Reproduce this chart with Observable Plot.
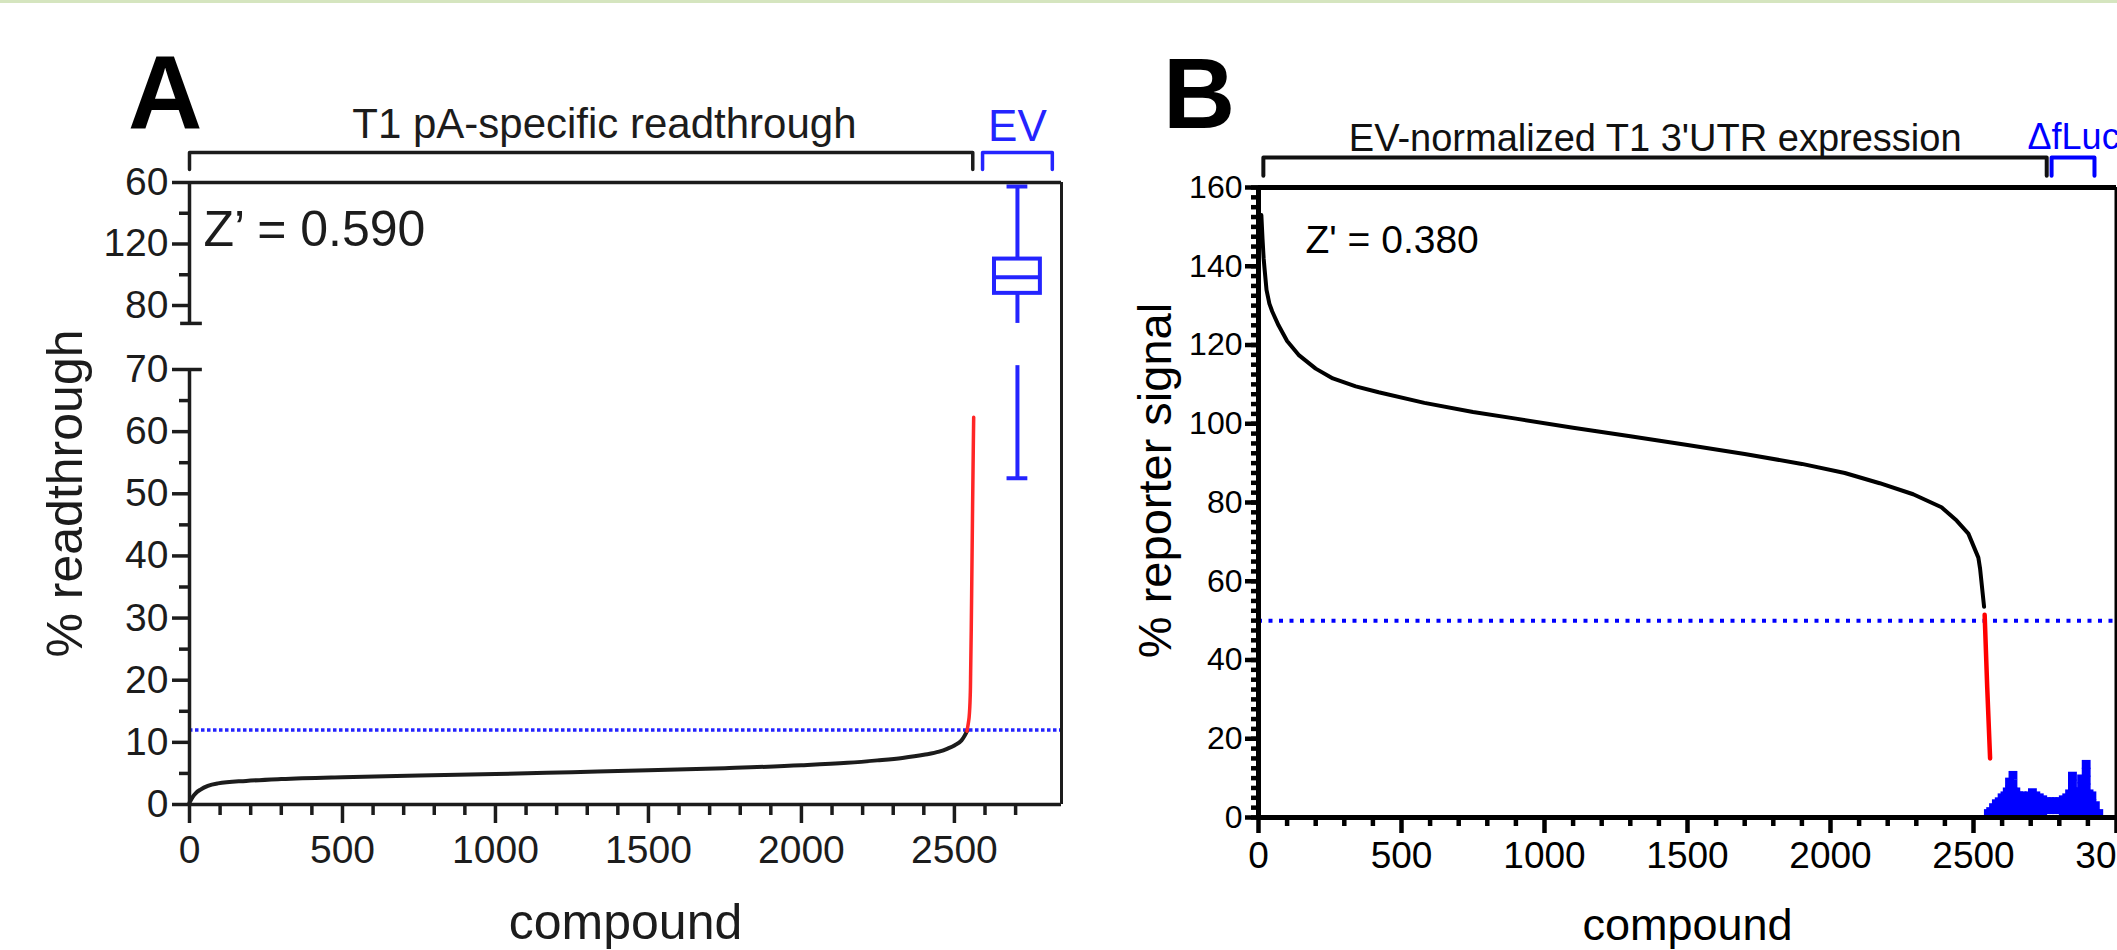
<!DOCTYPE html>
<html>
<head>
<meta charset="utf-8">
<script src="https://cdn.jsdelivr.net/npm/d3@7"></script>
<script src="https://cdn.jsdelivr.net/npm/@observablehq/plot@0.6"></script>
<style>
html, body { margin: 0; padding: 0; background: #ffffff; }
body { width: 2117px; height: 950px; overflow: hidden; position: relative; font-family: "Liberation Sans", Arial, Helvetica, sans-serif; }
#strip { position: absolute; left: 0; top: 0; width: 2117px; height: 3px; background: #d5e5bf; }
.letter { position: absolute; font-weight: bold; line-height: 1; color: #000; }
#panelA { position: absolute; left: 0; top: 0; }
#panelB { position: absolute; left: 1100px; top: 0; }
</style>
</head>
<body>
<div id="strip"></div>
<div id="panelA"></div>
<div id="panelB"></div>
<div class="letter" style="left:128px; top:41px; font-size:103px;">A</div>
<div class="letter" style="left:1163px; top:43px; font-size:100px;">B</div>
<script>
const FONT = '"Liberation Sans", Arial, Helvetica, sans-serif';

// ---------------- Panel A : T1 pA-specific readthrough ----------------
const compoundA     = [0, 10, 20, 36, 60, 93, 185, 300, 500, 750, 1000, 1250, 1500, 1750, 2000, 2150, 2248, 2330, 2400, 2450, 2478, 2500, 2523, 2535, 2541];
const readthroughA  = [0.3, 1.2, 1.8, 2.4, 3.0, 3.4, 3.8, 4.1, 4.4, 4.65, 4.9, 5.2, 5.5, 5.85, 6.3, 6.7, 7.1, 7.5, 8.0, 8.5, 9.0, 9.5, 10.3, 11.2, 11.8];
const hitCompoundA  = [2541, 2548, 2552, 2553, 2555, 2557, 2559, 2562, 2563];
const hitReadthroughA = [11.8, 14, 18, 21, 28, 37, 46, 58.6, 62.3];
const thresholdA = 12;
const evCompoundA = 2706;
const evBoxA = [52.5, 87.9, 98.4, 110.2, 157.4];      // min, q1, median, q3, max
const yTicksA = [0, 10, 20, 30, 40, 50, 60, 70, 80, 120, 160];
const yTickLabelsA = ["0", "10", "20", "30", "40", "50", "60", "70", "80", "120", "60"];
const yMinorA = [5, 15, 25, 35, 45, 55, 65, 100, 140];
const xTicksA = [0, 500, 1000, 1500, 2000, 2500];
const xMinorA = [100, 200, 300, 400, 600, 700, 800, 900, 1100, 1200, 1300, 1400, 1600, 1700, 1800, 1900, 2100, 2200, 2300, 2400, 2600, 2700];
const bracketLabelsA = ["T1 pA-specific readthrough", "EV"];
const bracketStartA  = [0, 2592];
const bracketEndA    = [2560, 2820];
const bracketLabelXA = [1356, 2706];

// ---------------- Panel B : EV-normalized T1 3'UTR expression ----------------
const compoundB = [10, 14, 18, 21, 28, 38, 48, 70, 100, 140, 200, 260, 340, 420, 580, 750, 900, 1100, 1300, 1500, 1700, 1900, 2050, 2172, 2289, 2388, 2441, 2482, 2517, 2523, 2537];
const signalB   = [153, 147, 142, 139.5, 134, 130.5, 128.5, 125, 121, 117.5, 114, 111.5, 109.5, 108, 105.3, 103, 101.3, 99, 96.8, 94.6, 92.3, 89.8, 87.5, 84.9, 82.1, 78.8, 75.4, 72.1, 66, 63.2, 53.5];
const hitCompoundB = [2539, 2548, 2558];
const hitSignalB   = [51.5, 33, 15];
const thresholdB = 50;
// ΔfLuc control wells: [compound position, values of the stacked squares]
const dflucColumns = [
  [2552, [1.0]], [2560, [1.5]], [2570, [2.5, 0.8]], [2580, [3.5, 1.5]], [2590, [4.0, 2.0]],
  [2600, [5.0, 3.0, 1.0]], [2610, [5.5, 3.5, 1.5]], [2618, [6.5, 4.5, 2.5, 1.0]], [2626, [9.0, 7.0, 5.0, 3.0, 1.0]],
  [2638, [10.7, 8.5, 6.5, 4.5, 2.5, 1.0]], [2648, [6.5, 4.5, 2.5, 1.0]], [2658, [5.5, 3.5, 1.5]], [2670, [5.5, 3.5, 1.5]],
  [2682, [5.0, 3.0, 1.0]], [2694, [5.5, 3.5, 1.5]], [2706, [6.3, 4.0, 2.0]], [2718, [5.5, 3.5, 1.5]], [2730, [5.0, 3.0, 1.0]],
  [2742, [4.5, 2.5, 1.0]], [2754, [4.0, 2.0]], [2766, [4.0, 2.0]], [2778, [4.0, 2.0]], [2790, [4.0, 2.0]], [2802, [4.0, 2.0]],
  [2814, [4.5, 2.5, 1.0]], [2826, [5.0, 3.0, 1.0]], [2836, [6.0, 4.0, 2.0]], [2846, [10.5, 8.5, 6.5, 4.5, 2.5, 1.0]],
  [2856, [6.5, 4.5, 2.5, 1.0]], [2866, [6.5, 4.5, 2.5, 1.0]], [2878, [9.8, 7.8, 5.8, 3.8, 1.8]], [2886, [6.5, 4.5, 2.5, 1.0]],
  [2894, [13.5, 11.5, 9.5, 7.5, 5.5, 3.5, 1.5]], [2904, [6.0, 4.0, 2.0]], [2914, [5.5, 3.5, 1.5]], [2926, [3.0, 1.0]], [2938, [1.0]]
];
const yTicksB = [0, 20, 40, 60, 80, 100, 120, 140, 160];
const xTicksB = [0, 500, 1000, 1500, 2000, 2500, 3000];
const bracketLabelsB = ["EV-normalized T1 3'UTR expression", "ΔfLuc"];
const bracketStartB  = [17, 2773];
const bracketEndB    = [2756, 2923];
const bracketLabelXB = [1387, 2689];

// ---------------- helpers ----------------
const toPoints = (xs, ys) => xs.map((c, i) => ({c, v: ys[i]}));
function bracketPaths(starts, ends, top, foot) {
  return starts.flatMap((s, i) => [
    {id: i, c: s, v: foot}, {id: i, c: s, v: top}, {id: i, c: ends[i], v: top}, {id: i, c: ends[i], v: foot}
  ]);
}

// ---------------- Panel A ----------------
const inkA = "#1c1c1c";
const blueA = "#2424ff";
const [evMin, evQ1, evMed, evQ3, evMax] = evBoxA;
const breakA = [70.6, 77.2];          // hidden band of the broken y axis
// broken-axis layout: 0–70 gets most of the height, 80–160 is compressed above the break
const yA = d3.scaleLinear([0, 70, 80, 160], [0, 435, 499, 622]);
const yTicksPosA = yTicksA.map(yA);
const boxHalf = 75, capHalf = 34;
const bracketPathA = bracketPaths(bracketStartA, bracketEndA, 179.5, 168.5);

const plotA = Plot.plot({
  width: 1100, height: 950,
  marginLeft: 189, marginRight: 39, marginTop: 182, marginBottom: 146,
  style: {background: "transparent", fontFamily: FONT, fontSize: "39px", color: inkA, overflow: "visible"},
  x: {domain: [0, 2850], axis: null},
  y: {domain: [0, 622], axis: null},
  marks: [
    Plot.ruleY([thresholdA], {y: yA, stroke: blueA, strokeWidth: 3.5, strokeDasharray: "3.5,2.5"}),
    Plot.line(toPoints(compoundA, readthroughA), {x: "c", y: d => yA(d.v), stroke: inkA, strokeWidth: 4, curve: "monotone-x"}),
    Plot.line(toPoints(hitCompoundA, hitReadthroughA), {x: "c", y: d => yA(d.v), stroke: "#ff2626", strokeWidth: 3.5, curve: "monotone-y"}),
    // EV box plot (whisker interrupted by the axis break)
    Plot.ruleX([evCompoundA], {y1: yA(evMin), y2: yA(breakA[0]), stroke: blueA, strokeWidth: 4}),
    Plot.ruleX([evCompoundA], {y1: yA(breakA[1]), y2: yA(evQ1), stroke: blueA, strokeWidth: 4}),
    Plot.ruleX([evCompoundA], {y1: yA(evQ3), y2: yA(evMax), stroke: blueA, strokeWidth: 4}),
    Plot.rect([evBoxA], {x1: evCompoundA - boxHalf, x2: evCompoundA + boxHalf, y1: yA(evQ1), y2: yA(evQ3), fill: "white", stroke: blueA, strokeWidth: 4}),
    Plot.ruleY([evMed], {y: yA, x1: evCompoundA - boxHalf, x2: evCompoundA + boxHalf, stroke: blueA, strokeWidth: 4}),
    Plot.ruleY([evMin, evMax], {y: yA, x1: evCompoundA - capHalf, x2: evCompoundA + capHalf, stroke: blueA, strokeWidth: 4}),
    // frame and broken left axis
    Plot.ruleY([0], {y: yA, stroke: inkA, strokeWidth: 3.5}),
    Plot.ruleY([160], {y: yA, stroke: inkA, strokeWidth: 3.5}),
    Plot.ruleX([2850], {y1: yA(0), y2: yA(160), stroke: inkA, strokeWidth: 3}),
    Plot.ruleX([0], {y1: yA(0), y2: yA(70), stroke: inkA, strokeWidth: 3.5}),
    Plot.ruleX([0], {y1: yA(breakA[1]), y2: yA(160), stroke: inkA, strokeWidth: 3.5}),
    Plot.ruleY([70], {y: yA, x1: 0, x2: 42, stroke: inkA, strokeWidth: 3.5}),
    Plot.ruleY([breakA[1]], {y: yA, x1: -29, x2: 42, stroke: inkA, strokeWidth: 3.5}),
    Plot.axisY({ticks: yTicksPosA, tickSize: 17, tickPadding: 4, tickFormat: d => yTickLabelsA[yTicksPosA.indexOf(d)], fontSize: 39, strokeWidth: 3.5, label: null}),
    Plot.axisY({ticks: yMinorA.map(yA), tickSize: 10, tickFormat: () => "", strokeWidth: 3.5, label: null}),
    Plot.axisX({ticks: xTicksA, tickSize: 19, tickPadding: 12, tickFormat: d => String(d), fontSize: 39, strokeWidth: 3.5, label: null}),
    Plot.axisX({ticks: xMinorA, tickSize: 11, tickFormat: () => "", strokeWidth: 3.5, label: null}),
    // brackets and labels
    Plot.line(bracketPathA.filter(d => d.id === 0), {x: "c", y: d => yA(d.v), stroke: inkA, strokeWidth: 3.5, curve: "linear"}),
    Plot.line(bracketPathA.filter(d => d.id === 1), {x: "c", y: d => yA(d.v), stroke: blueA, strokeWidth: 3.5, curve: "linear"}),
    Plot.text([bracketLabelsA[0]], {x: bracketLabelXA[0], frameAnchor: "top", dy: -45, lineAnchor: "bottom", fontSize: 42, fill: inkA}),
    Plot.text([bracketLabelsA[1]], {x: bracketLabelXA[1], frameAnchor: "top", dy: -42, lineAnchor: "bottom", fontSize: 44, fill: blueA}),
    Plot.text(["Z’ = 0.590"], {frameAnchor: "top-left", dx: 14, dy: 63, lineAnchor: "bottom", textAnchor: "start", fontSize: 50, fill: inkA}),
    Plot.text(["% readthrough"], {frameAnchor: "left", dx: -124, rotate: -90, textAnchor: "middle", lineAnchor: "middle", fontSize: 50, fill: inkA}),
    Plot.text(["compound"], {frameAnchor: "bottom", dy: 99, lineAnchor: "top", fontSize: 50, fill: inkA})
  ]
});
document.getElementById("panelA").appendChild(plotA);

// ---------------- Panel B ----------------
const blueB = "#0000ff";
const dflucPoints = dflucColumns.flatMap(([c, vals]) => vals.map(v => ({c, v})));
const bracketPathB = bracketPaths(bracketStartB, bracketEndB, 167.6, 163.0);

const plotB = Plot.plot({
  width: 1017, height: 950,
  marginLeft: 158, marginRight: 1, marginTop: 187, marginBottom: 133,
  style: {background: "transparent", fontFamily: FONT, fontSize: "32px", color: "#000"},
  x: {domain: [0, 3000], axis: null},
  y: {domain: [0, 160], axis: null},
  marks: [
    Plot.ruleY([thresholdB], {stroke: blueB, strokeWidth: 4, strokeDasharray: "4,6.5"}),
    Plot.dot(dflucPoints, {x: "c", y: "v", symbol: "square", r: 5, fill: blueB}),
    Plot.line(toPoints(compoundB, signalB), {x: "c", y: "v", stroke: "#000", strokeWidth: 4, curve: "linear"}),
    Plot.line(toPoints(hitCompoundB, hitSignalB), {x: "c", y: "v", stroke: "#ff0000", strokeWidth: 4.5, curve: "linear"}),
    Plot.ruleY([0], {stroke: "#000", strokeWidth: 5}),
    Plot.ruleY([160], {stroke: "#000", strokeWidth: 5}),
    Plot.ruleX([0], {stroke: "#000", strokeWidth: 5}),
    Plot.ruleX([3000], {stroke: "#000", strokeWidth: 4}),
    Plot.axisY({ticks: yTicksB, tickSize: 13, tickPadding: 3, tickFormat: d => String(d), fontSize: 32, strokeWidth: 4.5, label: null}),
    Plot.axisY({ticks: d3.range(0, 160.1, 2.5), tickSize: 7, tickFormat: () => "", strokeWidth: 4.5, label: null}),
    Plot.axisX({ticks: xTicksB, tickSize: 16, tickPadding: 8, tickFormat: d => String(d), fontSize: 37, strokeWidth: 4.5, label: null}),
    Plot.axisX({ticks: d3.range(100, 3000, 100).filter(d => d % 500 !== 0), tickSize: 9, tickFormat: () => "", strokeWidth: 4.5, label: null}),
    Plot.line(bracketPathB.filter(d => d.id === 0), {x: "c", y: "v", stroke: "#111", strokeWidth: 4, curve: "linear"}),
    Plot.line(bracketPathB.filter(d => d.id === 1), {x: "c", y: "v", stroke: blueB, strokeWidth: 4, curve: "linear"}),
    Plot.text([bracketLabelsB[0]], {x: bracketLabelXB[0], frameAnchor: "top", dy: -37, lineAnchor: "bottom", fontSize: 38, fill: "#111"}),
    Plot.text([bracketLabelsB[1]], {x: bracketLabelXB[1], frameAnchor: "top", dy: -39, lineAnchor: "bottom", textAnchor: "start", fontSize: 36, fill: blueB}),
    Plot.text(["Z' = 0.380"], {frameAnchor: "top-left", dx: 47, dy: 65, lineAnchor: "bottom", textAnchor: "start", fontSize: 39, fill: "#000"}),
    Plot.text(["% reporter signal"], {frameAnchor: "left", dx: -103, dy: -22, rotate: -90, textAnchor: "middle", lineAnchor: "middle", fontSize: 47, fill: "#000"}),
    Plot.text(["compound"], {frameAnchor: "bottom", dy: 91, lineAnchor: "top", fontSize: 45, fill: "#000"})
  ]
});
document.getElementById("panelB").appendChild(plotB);
</script>
</body>
</html>
